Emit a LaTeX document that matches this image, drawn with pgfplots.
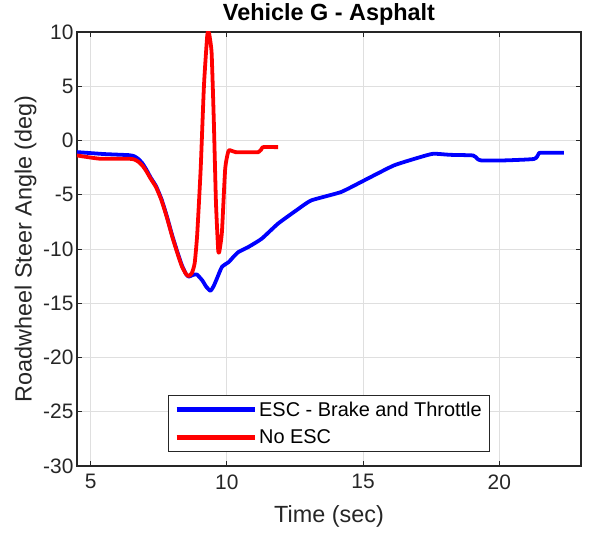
\documentclass[border=0pt]{standalone}
\usepackage{pgfplots}
\pgfplotsset{compat=1.18}
\usepackage{fontspec}
\setmainfont{Liberation Sans}
\definecolor{axgray}{RGB}{38,38,38}
\definecolor{gridgray}{RGB}{223,223,223}
\begin{document}
\begin{tikzpicture}
\begin{axis}[
    scale only axis,
    width=504bp, height=434bp,
    xmin=4.5, xmax=23, ymin=-30, ymax=10,
    xtick={5,10,15,20}, ytick={-30,-25,...,10},
    grid=major,
    grid style={gridgray, line width=0.8pt},
    axis line style={axgray, line width=1.2pt},
    tick style={axgray, line width=1pt},
    tick align=inside,
    major tick length=5bp,
    ticklabel style={font=\fontsize{21}{25}\selectfont, text=axgray},
    xticklabel style={yshift=-5bp},
    /pgf/number format/assume math mode=true,
    xlabel={Time (sec)}, ylabel={Roadwheel Steer Angle (deg)},
    label style={font=\fontsize{23.5}{27}\selectfont, text=axgray},
    xlabel style={yshift=-9bp},
    title={\textbf{Vehicle G - Asphalt}},
    title style={font=\fontsize{23.5}{27}\selectfont, yshift=-3bp},
    legend style={at={(0.5,0.033)}, anchor=south, font=\fontsize{20}{26}\selectfont,
        draw=axgray, line width=1pt, inner xsep=6bp, inner ysep=4bp, row sep=8bp},
    legend cell align=left,
    legend image code/.code={\draw[#1, line width=5pt] (0cm,0cm) -- (2.75cm,0cm);},
]
\addplot[blue, line width=3.8pt, line join=round, smooth, tension=0.3] coordinates {
(4.5,-1.07) (5.5,-1.25) (6.4,-1.35) (6.6,-1.45) (6.75,-1.7) (6.9,-2.1) (7.05,-2.7)
(7.2,-3.4) (7.4,-4.2) (7.6,-5.4) (7.8,-7.0) (8.0,-8.8) (8.2,-10.4) (8.35,-11.5)
(8.5,-12.3) (8.6,-12.55) (8.75,-12.4) (8.9,-12.35) (9.1,-12.9) (9.25,-13.5)
(9.4,-13.85) (9.52,-13.4) (9.64,-12.7) (9.82,-11.65) (10.07,-11.2) (10.25,-10.7)
(10.43,-10.27) (10.8,-9.8) (11.28,-9.05) (11.88,-7.66) (12.6,-6.35) (13.1,-5.52)
(14.19,-4.75) (15.04,-3.68) (16.13,-2.3) (17.1,-1.53) (17.58,-1.22) (18.19,-1.32)
(19.04,-1.38) (19.2,-1.7) (19.34,-1.84) (20.13,-1.84) (21.28,-1.7) (21.45,-1.2)
(21.52,-1.13) (22.37,-1.13)
};
\addlegendentry{ESC - Brake and Throttle}
\addplot[red, line width=3.8pt, line join=round, smooth, tension=0.3] coordinates {
(4.5,-1.38) (5.34,-1.68) (6.4,-1.68) (6.6,-1.75) (6.75,-1.95) (6.9,-2.3) (7.05,-2.85)
(7.2,-3.5) (7.4,-4.3) (7.6,-5.5) (7.8,-7.1) (8.0,-8.9) (8.2,-10.5) (8.35,-11.6)
(8.5,-12.3) (8.6,-12.5) (8.72,-12.2) (8.82,-11.3) (8.91,-8.74) (9.04,-2.6)
(9.16,5.06) (9.28,9.66) (9.34,9.97) (9.44,8.13) (9.52,2.0) (9.6,-5.67)
(9.68,-10.0) (9.72,-10.3) (9.82,-8.43) (9.94,-2.6) (10.07,-0.92) (10.31,-1.07)
(11.16,-1.07) (11.3,-0.65) (11.34,-0.61) (11.88,-0.61)
};
\addlegendentry{No ESC}
\end{axis}
\useasboundingbox ([shift={(-77bp,-68bp)}]current axis.south west) rectangle ([shift={(9bp,32bp)}]current axis.north east);
\end{tikzpicture}
\end{document}
